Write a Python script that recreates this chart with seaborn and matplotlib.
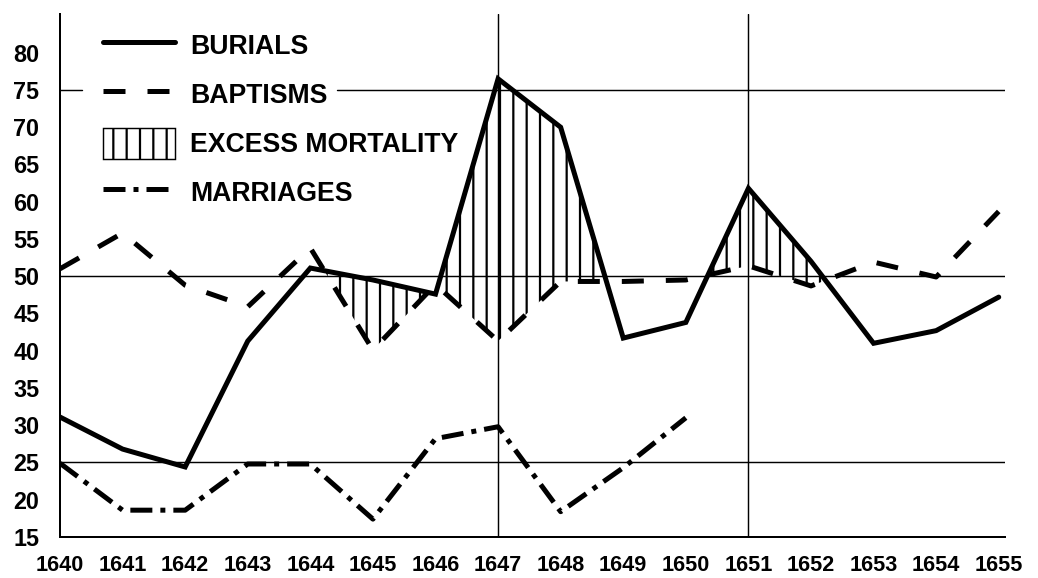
import seaborn as sns
import matplotlib.pyplot as plt
import pandas as pd
from matplotlib.lines import Line2D
from matplotlib.patches import Patch

# values
years = list(range(1640, 1656))
burials = [31.1, 26.8, 24.4, 41.3, 51.1, 49.5, 47.6, 76.5, 70.0, 41.7, 43.8, 61.8, 52.0, 41.0, 42.7, 47.2]
baptisms = [51.0, 55.8, 48.8, 45.9, 53.8, 40.1, 48.9, 41.3, 49.3, 49.3, 49.5, 51.4, 48.7, 51.9, 49.9, 58.7]
marriages = [24.9, 18.6, 18.6, 24.8, 24.8, 17.4, 28.2, 29.8, 18.4, 24.3, 31.0]
marriage_years = years[:len(marriages)]
ref_rows = [25, 50]
ref_cols = [1647, 1651]
labels = ['BURIALS', 'BAPTISMS', 'EXCESS MORTALITY', 'MARRIAGES']

sns.set_style("white")
plt.rcParams['font.family'] = ['Liberation Sans', 'DejaVu Sans']
plt.rcParams['font.weight'] = 'bold'
plt.rcParams['text.color'] = 'black'
plt.rcParams['hatch.linewidth'] = 2.0
plt.rcParams['hatch.color'] = 'black'

df = pd.DataFrame({'year': years, 'burials': burials, 'baptisms': baptisms})
df_m = pd.DataFrame({'year': marriage_years, 'marriages': marriages})

DPI = 80
fig = plt.figure(figsize=(1038 / DPI, 578 / DPI), dpi=DPI)
ax = fig.add_axes([60 / 1038, 41 / 578, 945 / 1038, 523 / 578])

LW = 4.5
dashed = (0, (4.4, 4.4))
dashdot = (0, (4.4, 1.6, 1.0, 1.6))

# thin reference lines
for r in ref_rows:
    ax.axhline(r, color='black', lw=1.3, zorder=1)
ax.axhline(75, xmax=22 / 945, color='black', lw=1.3, zorder=1)
ax.axhline(75, xmin=277 / 945, color='black', lw=1.3, zorder=1)
for c in ref_cols:
    ax.axvline(c, color='black', lw=1.3, zorder=1)

# excess mortality: burials above baptisms
ax.fill_between(df['year'], df['burials'], df['baptisms'],
                where=df['burials'] > df['baptisms'], interpolate=True,
                facecolor='none', edgecolor='black', hatch='|', linewidth=0, zorder=2)

sns.lineplot(data=df, x='year', y='burials', color='black', lw=LW, ax=ax,
             solid_joinstyle='miter', zorder=3)
sns.lineplot(data=df, x='year', y='baptisms', color='black', lw=LW, ax=ax,
             linestyle=dashed, zorder=3)
sns.lineplot(data=df_m, x='year', y='marriages', color='black', lw=LW, ax=ax,
             linestyle=dashdot, zorder=3)

ax.set_xlim(1640, 1655.1)
ax.set_ylim(15, 85.2)
ax.set_xticks(years)
ax.set_yticks(range(15, 85, 5))
ax.set_xlabel('')
ax.set_ylabel('')
ax.tick_params(axis='y', length=11.7, width=1.3, pad=7, labelsize=21, colors='black')
ax.tick_params(axis='x', length=13.5, width=1.3, pad=3, labelsize=19.5, colors='black')
for t in ax.get_xticklabels() + ax.get_yticklabels():
    t.set_fontweight('bold')
sns.despine(ax=ax)
for s in ['left', 'bottom']:
    ax.spines[s].set_linewidth(1.8)
    ax.spines[s].set_color('black')

handles = [
    Line2D([], [], color='black', lw=LW),
    Line2D([], [], color='black', lw=LW, linestyle=dashed),
    Patch(facecolor='white', edgecolor='black', hatch='|', lw=1.3),
    Line2D([], [], color='black', lw=LW, linestyle=dashdot),
]
leg = ax.legend(handles, labels, loc='upper left', bbox_to_anchor=(43 / 945, 1 - 16 / 523),
                frameon=False, prop={'size': 24, 'weight': 'bold'},
                handlelength=2.7, handleheight=1.4,
                handletextpad=0.56, labelspacing=0.68, borderpad=0, borderaxespad=0)
for t in leg.get_texts():
    t.set_color('black')

fig.savefig('out.png', dpi=DPI)
